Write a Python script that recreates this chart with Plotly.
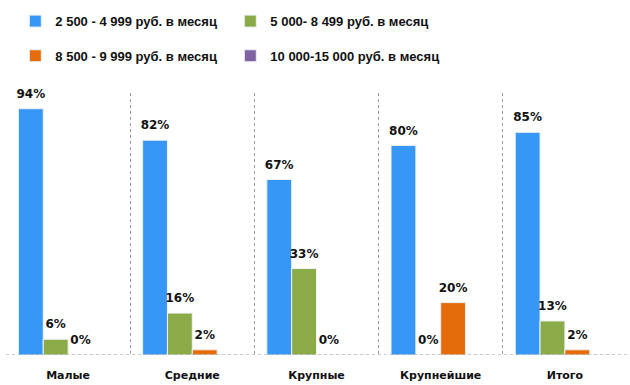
import plotly.graph_objects as go

categories = ["Малые", "Средние", "Крупные", "Крупнейшие", "Итого"]
series_names = ["2 500 - 4 999 руб. в месяц", "5 000- 8 499 руб. в месяц",
                "8 500 - 9 999 руб. в месяц", "10 000-15 000 руб. в месяц"]
s1 = [94, 82, 67, 80, 85]
s2 = [6, 16, 33, 0, 13]
s3 = [0, 2, 0, 20, 2]
s4 = [0, 0, 0, 0, 0]
values = [s1, s2, s3, s4]
colors = ["#3797F7", "#8BAB48", "#E46C0A", "#8064A2"]
show_labels = [True, True, True, False]
legends = ["legend", "legend", "legend2", "legend2"]

fig = go.Figure()
for name, vals, col, lg in zip(series_names, values, colors, legends):
    fig.add_trace(go.Bar(
        x=categories, y=vals, name=name,
        marker=dict(color=col, line=dict(color="#eef2f6", width=1)),
        legend=lg,
    ))
for name, vals, lab in zip(series_names, values, show_labels):
    fig.add_trace(go.Scatter(
        x=categories, y=vals, mode="markers+text", showlegend=False, hoverinfo="skip",
        text=[f"{v}%" for v in vals] if lab else [""] * len(vals),
        textposition="top center", cliponaxis=False,
        marker=dict(size=11, color="rgba(0,0,0,0)"),
        textfont=dict(family="DejaVu Sans", size=12, color="#111111", weight="bold"),
    ))

legend_font = dict(family="Liberation Sans, Arial", size=13, color="#111111", weight="bold")
fig.update_layout(
    width=630, height=385,
    margin=dict(l=6, r=3, t=93, b=30),
    paper_bgcolor="white", plot_bgcolor="white",
    barmode="group", bargap=0.2, bargroupgap=0.0,
    scattermode="group", scattergap=0.2,
    showlegend=True,
    legend=dict(orientation="h", x=0.015, y=0.984, yref="container", xanchor="left", yanchor="top",
                font=legend_font, entrywidth=170, itemwidth=30,
                bgcolor="rgba(0,0,0,0)", traceorder="normal"),
    legend2=dict(orientation="h", x=0.015, y=0.894, yref="container", xanchor="left", yanchor="top",
                 font=legend_font, entrywidth=170, itemwidth=30,
                 bgcolor="rgba(0,0,0,0)", traceorder="normal"),
    xaxis=dict(tickson="boundaries", showgrid=True, gridcolor="#9a9a9a", griddash="dot",
               gridwidth=1, ticks="", ticklabelstandoff=12,
               tickfont=dict(family="DejaVu Sans", size=11, color="#111111", weight="bold"),
               showline=False, zeroline=False),
    yaxis=dict(range=[0, 100], showticklabels=False, showgrid=False,
               zeroline=False, showline=False),
    shapes=[dict(type="line", xref="paper", yref="y", x0=0, x1=1, y0=0, y1=0,
                 line=dict(color="#9a9a9a", width=1, dash="dot"), layer="above")],
)

fig.write_html("out.html", config={"displayModeBar": False},
               post_script="document.body.style.margin='0';")
